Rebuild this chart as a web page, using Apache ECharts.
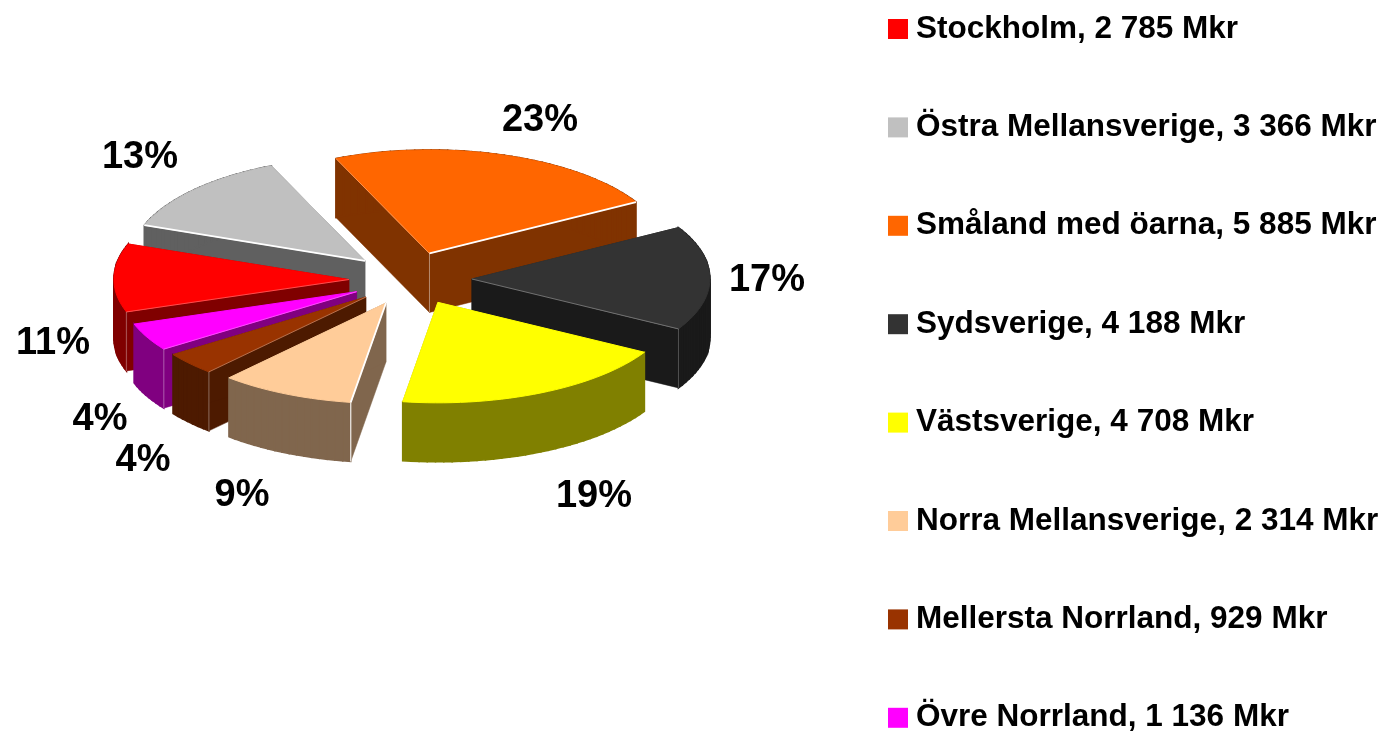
<!DOCTYPE html>
<html><head><meta charset="utf-8">
<style>html,body{margin:0;padding:0;background:#fff}#c{width:1394px;height:731px}</style>
<script src="https://cdn.jsdelivr.net/npm/echarts@6/dist/echarts.min.js"></script>
</head><body><div id="c"></div>
<script>
const regions = ['Stockholm','Östra Mellansverige','Småland med öarna','Sydsverige','Västsverige','Norra Mellansverige','Mellersta Norrland','Övre Norrland'];
const amounts = [2785,3366,5885,4188,4708,2314,929,1136];
const colors = ['#ff0000','#c0c0c0','#ff6600','#333333','#ffff00','#ffcc99','#993300','#ff00ff'];
const paintOrder = [2,1,3,0,7,6,5,4];
const labelCentres = [[53,344],[140,158],[540,121],[767,281],[594,497],[242,496],[143,461],[100,420]];
const brightEdges = {1:'from',2:'to',5:'from'};

const CX=410, CY=279, RX_RIGHT=238, RX_LEFT=235, RY_BACK=103.5, RY_FRONT=100.5, DEPTH=59, EXPLODE=0.26, START=-111;
const FONT='"Liberation Sans", Arial, sans-serif';
const total = amounts.reduce((a,b)=>a+b,0);
const fmt = v => String(v).replace(/\B(?=(\d{3})+$)/g,' ');
const shade = h => '#'+[1,3,5].map(i=>Math.round(parseInt(h.substr(i,2),16)/2).toString(16).padStart(2,'0')).join('');
const rad = d => d*Math.PI/180;
// the original's perspective pushes the front-left part of the rim round a little
const warp = d => { const t=((d%360)+360)%360; return (t>119&&t<338) ? d+2.3*Math.sin((t-119)/219*Math.PI) : d; };
const onEllipse = (o,d,k=1)=>{
  const c=Math.cos(rad(d)), s=Math.sin(rad(d));
  return [o[0]+k*(s>0?RX_RIGHT:RX_LEFT)*s, o[1]-k*(c>0?RY_BACK:RY_FRONT)*c];
};

function sliceElements(index, value){
  let from = START;
  for(let i=0;i<index;i++) from += amounts[i]/total*360;
  const to = from + value/total*360, mid=(from+to)/2;
  const apex = onEllipse([CX,CY],mid,EXPLODE);
  const down = p=>[p[0],p[1]+DEPTH];
  const arc=[]; const steps=Math.max(6,Math.ceil((to-from)/2));
  for(let s=0;s<=steps;s++) arc.push(onEllipse(apex,warp(from+(to-from)*s/steps)));
  const side=shade(colors[index]), els=[];
  const poly=(pts,fill,w=0.5)=>els.push({type:'polygon',shape:{points:pts},style:{fill,stroke:fill,lineWidth:w}});
  const line=(a,b,op,w)=>els.push({type:'line',shape:{x1:a[0],y1:a[1],x2:b[0],y2:b[1]},style:{stroke:'#fff',opacity:op,lineWidth:w}});
  const a0=arc[0], a1=arc[arc.length-1], m=arc[steps>>1];
  poly([apex,a0,down(a0),down(apex)],side);
  poly([apex,a1,down(a1),down(apex)],side);
  for(let s=0;s<steps;s++) poly([arc[s],arc[s+1],down(arc[s+1]),down(arc[s])],side,1.5);
  poly([apex,...arc],colors[index],1);
  const faces=(e)=>{ // is the slice body above this radial edge, so that its wall faces the viewer?
    const t=(m[0]-apex[0])/(e[0]-apex[0]);
    return apex[1]+t*(e[1]-apex[1]) > m[1];
  };
  const v0=faces(a0), v1=faces(a1), bright=brightEdges[index];
  if(v0) { bright==='from'?line(apex,a0,1,1.8):line(apex,a0,0.3,1); if(Math.cos(rad(from))<0) line(a0,down(a0),bright==='from'?0.9:0.3,1.2); }
  if(v1) { bright==='to'?line(apex,a1,1,1.8):line(apex,a1,0.3,1); if(Math.cos(rad(to))<0) line(a1,down(a1),0.25,1); }
  if(v0&&v1) line(apex,down(apex),0.4,1);
  const lc=labelCentres[index];
  els.push({type:'text',z2:10,style:{x:lc[0],y:lc[1],text:Math.round(value/total*100)+'%',fill:'#000',font:'bold 38px '+FONT,textAlign:'center',textVerticalAlign:'middle'}});
  return {type:'group',children:els};
}

const series = regions.map((name,i)=>({
  type:'custom', name, coordinateSystem:'none',
  z:2+paintOrder.indexOf(i),
  itemStyle:{color:colors[i]},
  data:[{name,value:amounts[i]}],
  renderItem:(params,api)=>sliceElements(i,api.value(0))
}));

echarts.init(document.getElementById('c'),null,{renderer:'canvas'}).setOption({
  animation:false, backgroundColor:'#fff',
  legend:{
    orient:'vertical', left:888, top:13, height:800, padding:0, itemGap:66.4,
    itemWidth:20, itemHeight:20, icon:'rect', selectedMode:false,
    data:regions,
    formatter:n=>n+', '+fmt(amounts[regions.indexOf(n)])+' Mkr',
    textStyle:{fontFamily:FONT,fontWeight:'bold',fontSize:31.5,color:'#000',padding:[0,0,0,3],lineHeight:20}
  },
  series
});
</script></body></html>
